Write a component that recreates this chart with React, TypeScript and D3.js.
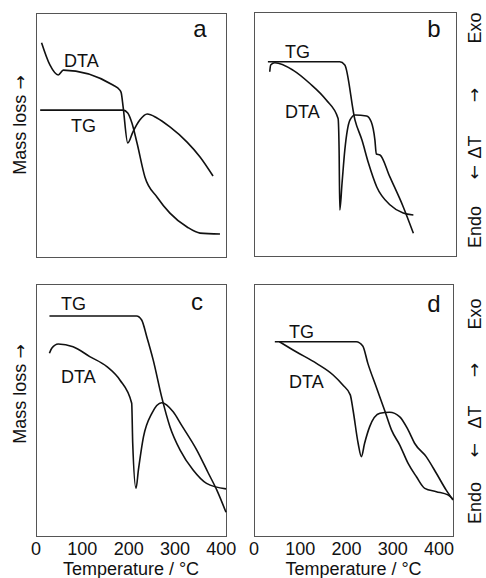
import React, { useEffect, useRef } from 'react';
import * as d3 from 'd3';

// [temperature °C, relative signal]
const tgA: [number, number][] = [
  [9, 60.2], [188, 60.2], [198, 59.0], [207, 54.9], [218, 46.7], [235, 32.8],
  [261, 24.6], [289, 18.0], [326, 12.3], [354, 9.8], [397, 9.4],
];
const dtaA: [number, number][] = [
  [12, 87.8], [30, 78.7], [48, 74.6], [59, 76.6], [166, 70.5], [181, 68.4],
  [184, 67.2], [188, 61.5], [198, 46.7], [209, 51.2], [224, 56.1], [240, 58.6],
  [261, 57.0], [289, 53.3], [326, 47.1], [354, 41.0], [382, 33.2],
];

const tgB: [number, number][] = [
  [30, 79.6], [185, 79.6], [196, 78.3], [218, 55.7], [233, 47.5], [247, 38.1],
  [265, 28.3], [294, 20.9], [322, 17.6], [344, 16.8],
];
const dtaB: [number, number][] = [
  [34, 75.5], [36, 78.3], [45, 79.2], [84, 76.2], [120, 70.8], [156, 63.9],
  [181.5, 56.4], [183.7, 43.4], [185.2, 18.9], [190, 29.8], [196, 43.4],
  [207, 55.7], [218, 57.8], [243, 57.4], [253, 55.0], [261, 47.5], [264, 41.8],
  [272, 41.4], [293, 32.5], [322, 20.2], [344, 9.3],
];

const tgC: [number, number][] = [
  [29, 87.3], [217, 87.3], [228, 85.7], [239, 79.1], [253, 69.8], [271, 55.3],
  [289, 43.4], [311, 34.1], [339, 26.2], [368, 20.9], [410, 18.7],
];
const dtaC: [number, number][] = [
  [29, 72.5], [34, 74.5], [48, 76.2], [80, 75.1], [116, 71.2], [153, 67.2],
  [181, 61.9], [206.5, 52.7], [208.7, 36.8], [215.8, 18.9], [221, 26.2],
  [232, 39.4], [250, 48.7], [271, 52.9], [296, 49.3], [314, 44.0], [347, 34.1],
  [372, 24.9], [390, 18.3], [410, 9.4],
];

const tgD: [number, number][] = [
  [45, 77.1], [221, 77.1], [235, 75.4], [246, 68.5], [264, 59.2], [282, 50.0],
  [297, 42.1], [315, 36.1], [333, 28.8], [351, 23.5], [369, 18.9], [394, 17.6],
  [419, 16.3], [430, 14.6],
];
const dtaD: [number, number][] = [
  [55, 77.1], [91, 73.1], [135, 68.5], [171, 63.9], [192, 59.9], [208, 56.0],
  [214, 50.0], [225, 36.8], [232, 31.5], [239, 36.8], [250, 43.4], [272, 48.7],
  [293, 49.1], [315, 47.3], [333, 42.1], [347, 36.8], [372, 31.5], [394, 24.9],
  [415, 18.3], [430, 14.3],
];

const tickLabels = [0, 100, 200, 300, 400];
const xTitle = 'Temperature / °C';
const leftTitle = 'Mass loss';
const rightParts = ['Endo', '←', 'ΔT', '→', 'Exo'];

const FONT = 'Liberation Sans, Arial, sans-serif';
const ARROW_FONT = "'DejaVu Sans'";
const FS = 18;
const AS = 17;

const panels = [
  { id: 'a', x0: 36, x1: 226, y0: 13, y1: 257, tmax: 410, tg: tgA, dta: dtaA,
    letter: [200, 37], tgLab: [71, 132], dtaLab: [64, 67], ticks: false, left: true, right: false },
  { id: 'b', x0: 254, x1: 456, y0: 12, y1: 256, tmax: 436, tg: tgB, dta: dtaB,
    letter: [434, 37], tgLab: [285, 58], dtaLab: [285, 118], ticks: false, left: false, right: true },
  { id: 'c', x0: 36, x1: 226, y0: 284, y1: 536, tmax: 410, tg: tgC, dta: dtaC,
    letter: [197, 310], tgLab: [61, 310], dtaLab: [61, 383], ticks: true, left: true, right: false },
  { id: 'd', x0: 254, x1: 453, y0: 284, y1: 536, tmax: 430, tg: tgD, dta: dtaD,
    letter: [434, 312], tgLab: [289, 338], dtaLab: [289, 388], ticks: true, left: false, right: true },
];

// vertical centres of the right-hand label pieces
const rightSpotsB = [227, 172, 147, 95, 28];
const rightSpotsD = [503, 450, 417, 370, 314];

const App = () => {
  const ref = useRef<SVGSVGElement | null>(null);

  useEffect(() => {
    const svg = d3.select(ref.current);
    svg.selectAll('*').remove();

    panels.forEach((p) => {
      const x = d3.scaleLinear().domain([0, p.tmax]).range([p.x0, p.x1]);
      const y = d3.scaleLinear().domain([0, 100]).range([p.y1, p.y0]);
      const g = svg.append('g');

      g.append('rect')
        .attr('x', p.x0 + 0.5).attr('y', p.y0 + 0.5)
        .attr('width', p.x1 - p.x0).attr('height', p.y1 - p.y0)
        .attr('fill', 'none').attr('stroke', '#555').attr('stroke-width', 1);

      const line = d3.line<[number, number]>()
        .x((d) => x(d[0]))
        .y((d) => y(d[1]))
        .curve(d3.curveMonotoneX);

      [p.tg, p.dta].forEach((series) => {
        g.append('path')
          .datum(series)
          .attr('d', line)
          .attr('fill', 'none')
          .attr('stroke', '#111')
          .attr('stroke-width', 1.6)
          .attr('stroke-linejoin', 'round');
      });

      const txt = (s: string, tx: number, ty: number, size: number, anchor = 'start') =>
        g.append('text')
          .attr('x', tx).attr('y', ty)
          .attr('font-family', FONT).attr('font-size', size)
          .attr('text-anchor', anchor).attr('fill', '#111')
          .text(s);

      txt(p.id, p.letter[0], p.letter[1], 24, 'middle');
      txt('TG', p.tgLab[0], p.tgLab[1], FS);
      txt('DTA', p.dtaLab[0], p.dtaLab[1], FS);

      if (p.ticks) {
        tickLabels.forEach((t) => txt(String(t), x(t), 555, FS, 'middle'));
        txt(xTitle, (p.x0 + p.x1) / 2, 575, FS, 'middle');
      }

      if (p.left) {
        const cy = p.id === 'a' ? 125 : 394;
        const t = g.append('text')
          .attr('transform', `translate(26, ${cy}) rotate(-90)`)
          .attr('font-family', FONT).attr('font-size', FS)
          .attr('text-anchor', 'middle').attr('fill', '#111');
        t.append('tspan').text(leftTitle + ' ');
        t.append('tspan').style('font-family', ARROW_FONT).style('font-size', `${AS}px`).text('→');
      }

      if (p.right) {
        const spots = p.id === 'b' ? rightSpotsB : rightSpotsD;
        rightParts.forEach((s, i) => {
          const arrow = s === '←' || s === '→';
          g.append('text')
            .attr('transform', `translate(${arrow ? 480 : 481}, ${spots[i]}) rotate(-90)`)
            .style('font-family', arrow ? ARROW_FONT : FONT)
            .style('font-size', `${arrow ? AS : FS}px`)
            .attr('text-anchor', 'middle').attr('fill', '#111')
            .text(s);
        });
      }
    });
  }, []);

  return (
    <svg
      ref={ref}
      width={486}
      height={578}
      style={{ position: 'absolute', left: 0, top: 0, background: '#fff' }}
    />
  );
};

export default App;
